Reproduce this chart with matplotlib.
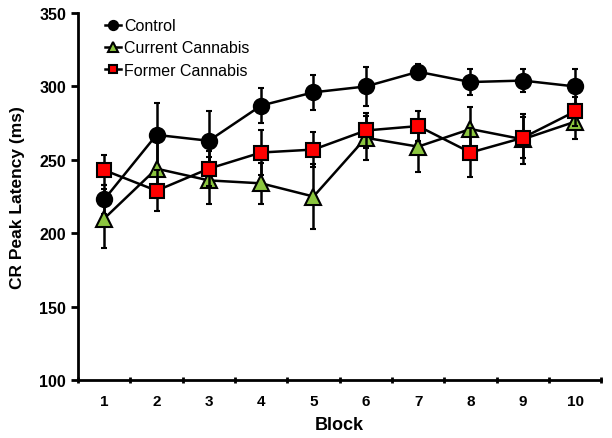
import matplotlib.pyplot as plt
import numpy as np

plt.rcParams['font.family'] = ['Liberation Sans', 'DejaVu Sans']
plt.rcParams['font.weight'] = 'bold'

blocks = np.arange(1, 11)
control = [223, 267, 263, 287, 296, 300, 310, 303, 304, 300]
control_err = [10, 22, 20, 12, 12, 13, 5, 9, 8, 12]
current = [210, 244, 236, 234, 225, 265, 259, 271, 264, 276]
current_err = [20, 20, 16, 14, 22, 15, 17, 15, 17, 12]
former = [243, 229, 244, 255, 257, 270, 273, 255, 265, 283]
former_err = [10, 14, 12, 15, 12, 12, 10, 17, 14, 10]

fig = plt.figure(figsize=(6.12, 4.39), dpi=100)
ax = fig.add_axes([0.1275, 0.132, 0.855, 0.836])

kw = dict(color='black', lw=1.8, elinewidth=1.8, capsize=2, capthick=1.8,
          markeredgecolor='black', markeredgewidth=1.5)
c1 = ax.errorbar(blocks, control, yerr=control_err, fmt='-o', ms=11,
                 markerfacecolor='black', label='Control', zorder=3, **kw)
c2 = ax.errorbar(blocks, current, yerr=current_err, fmt='-^', ms=11,
                 markerfacecolor='#8cc63f', label='Current Cannabis', zorder=4, **kw)
c3 = ax.errorbar(blocks, former, yerr=former_err, fmt='-s', ms=10.5,
                 markerfacecolor='#ff0000', label='Former Cannabis', zorder=5, **kw)

ax.set_xlim(0.5, 10.5)
ax.set_ylim(100, 350)
ax.set_yticks(np.arange(100, 351, 50))
ax.set_xticks(np.arange(0.5, 10.6, 1))
ax.set_xticklabels([])
ax.set_xticks(blocks, minor=True)
ax.set_xticklabels([str(b) for b in blocks], minor=True)
ax.tick_params(axis='x', which='minor', length=0, labelsize=11, pad=10)
ax.tick_params(axis='x', which='major', length=5, width=2, direction='inout')
ax.tick_params(axis='y', length=5, width=2, labelsize=11.5, direction='out')
for s in ['top', 'right']:
    ax.spines[s].set_visible(False)
for s in ['left', 'bottom']:
    ax.spines[s].set_linewidth(2)

ax.set_xlabel('Block', fontsize=13, fontweight='bold', labelpad=6)
ax.set_ylabel('CR Peak Latency (ms)', fontsize=12.5, fontweight='bold', labelpad=10)

ax.legend(handles=[c1[0], c2[0], c3[0]],
          labels=['Control', 'Current Cannabis', 'Former Cannabis'],
          loc='upper left', bbox_to_anchor=(0.025, 1.025), frameon=False,
          prop={'size': 11.5, 'weight': 'normal'}, markerscale=0.6,
          handlelength=1.0, handletextpad=0.15, labelspacing=0.45)

fig.savefig('out.png', dpi=100)
